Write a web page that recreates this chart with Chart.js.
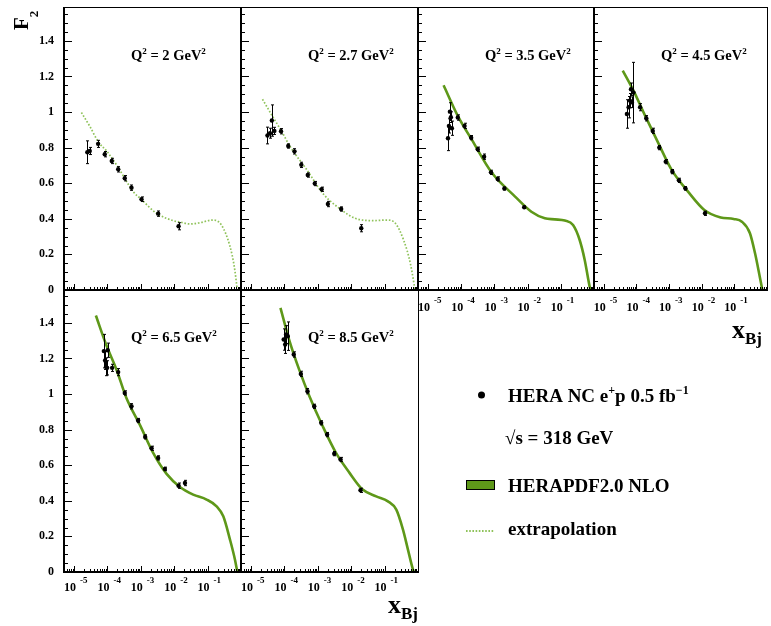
<!DOCTYPE html>
<html>
<head>
<meta charset="utf-8">
<script src="https://cdn.jsdelivr.net/npm/chart.js@4.4.1/dist/chart.umd.min.js"></script>
<style>
  html, body { margin: 0; padding: 0; background: #fff; }
  #wrap { position: relative; width: 771px; height: 626px; }
  #wrap canvas { position: absolute; left: 0; top: 0; }
</style>
</head>
<body>
<div id="wrap"></div>
<script>
// --- axis ticks ---
const yTickValues = [0, 0.2, 0.4, 0.6, 0.8, 1, 1.2, 1.4];
const yTickLabels = ['0', '0.2', '0.4', '0.6', '0.8', '1', '1.2', '1.4'];
const xTickValues = [1e-5, 1e-4, 1e-3, 1e-2, 1e-1];
const xTickExps   = ['-5', '-4', '-3', '-2', '-1'];
const q2Labels    = ['2', '2.7', '3.5', '4.5', '6.5', '8.5'];

// --- Q2 = 2 ---
const p1X = [2.5e-5, 2.95e-5, 5.25e-5, 8.3e-5, 1.35e-4, 2.1e-4, 3.3e-4, 5.25e-4, 1.05e-3, 3.3e-3, 1.35e-2];
const p1Y = [0.774, 0.781, 0.821, 0.763, 0.725, 0.678, 0.628, 0.575, 0.510, 0.429, 0.358];
const p1E = [0.064, 0.02, 0.02, 0.015, 0.015, 0.015, 0.015, 0.015, 0.013, 0.015, 0.02];
const p1CurveX = [1.66e-5, 3e-5, 5.25e-5, 1e-4, 2e-4, 5.9e-4, 1e-3, 2.95e-3, 1e-2, 1.48e-2, 2.95e-2, 5.9e-2, 1.41e-1, 2.6e-1, 4.7e-1, 6.3e-1, 7.76e-1];
const p1CurveY = [0.997, 0.918, 0.834, 0.775, 0.695, 0.553, 0.512, 0.431, 0.388, 0.382, 0.371, 0.378, 0.393, 0.365, 0.244, 0.131, 0];

// --- Q2 = 2.7 ---
const p2X = [3.1e-5, 3.7e-5, 4.2e-5, 5e-5, 7.9e-5, 1.3e-4, 2e-4, 3.2e-4, 5e-4, 8.1e-4, 1.3e-3, 2e-3, 5e-3, 2e-2];
const p2Y = [0.868, 0.881, 0.952, 0.894, 0.892, 0.809, 0.779, 0.703, 0.646, 0.598, 0.566, 0.483, 0.455, 0.347];
const p2E = [0.047, 0.028, 0.088, 0.02, 0.015, 0.012, 0.015, 0.015, 0.012, 0.012, 0.012, 0.015, 0.012, 0.02];
const p2CurveX = [2.2e-5, 4.2e-5, 8.3e-5, 1.48e-4, 4.7e-4, 1.48e-3, 4.7e-3, 1.3e-2, 4.7e-2, 1.17e-1, 2.1e-1, 3.7e-1, 5.9e-1, 8.1e-1];
const p2CurveY = [1.072, 0.982, 0.890, 0.806, 0.675, 0.538, 0.455, 0.403, 0.390, 0.393, 0.375, 0.281, 0.150, 0.004];

// --- Q2 = 3.5 ---
const p3X = [4e-5, 4.27e-5, 4.57e-5, 4.9e-5, 5.25e-5, 7.9e-5, 1.26e-4, 2e-4, 3.16e-4, 4.9e-4, 7.9e-4, 1.26e-3, 2e-3, 7.9e-3];
const p3Y = [0.853, 0.922, 1.002, 0.971, 0.909, 0.969, 0.922, 0.856, 0.791, 0.749, 0.661, 0.624, 0.570, 0.465];
const p3E = [0.07, 0.04, 0.05, 0.03, 0.04, 0.015, 0.015, 0.012, 0.012, 0.015, 0.012, 0.012, 0.008, 0.006];
const p3CurveX = [2.95e-5, 7.9e-5, 2.1e-4, 8.3e-4, 4.2e-3, 1.3e-2, 3.3e-2, 6.6e-2, 1.32e-1, 2.34e-1, 3.7e-1, 5.25e-1, 7.4e-1, 7.9e-1];
const p3CurveY = [1.150, 0.978, 0.843, 0.660, 0.525, 0.440, 0.403, 0.397, 0.390, 0.365, 0.281, 0.169, 0.019, 0];

// --- Q2 = 4.5 ---
const p4X = [5.1e-5, 5.75e-5, 6.3e-5, 6.8e-5, 7.2e-5, 8.1e-5, 1.29e-4, 2e-4, 3.16e-4, 5e-4, 7.9e-4, 1.26e-3, 2e-3, 3.16e-3, 1.26e-2];
const p4Y = [0.989, 1.027, 1.064, 1.128, 1.055, 1.109, 1.027, 0.965, 0.894, 0.800, 0.721, 0.665, 0.616, 0.571, 0.431];
const p4E = [0.08, 0.06, 0.04, 0.035, 0.03, 0.17, 0.02, 0.015, 0.015, 0.012, 0.012, 0.012, 0.012, 0.01, 0.012];
const p4CurveX = [3.8e-5, 8.1e-5, 1.9e-4, 4.8e-4, 1.2e-3, 3.8e-3, 1.2e-2, 3.8e-2, 9.5e-2, 1.7e-1, 3.0e-1, 4.3e-1, 6.0e-1, 7.2e-1];
const p4CurveY = [1.233, 1.120, 0.974, 0.821, 0.675, 0.553, 0.450, 0.408, 0.399, 0.384, 0.319, 0.206, 0.075, 0];

// --- Q2 = 6.5 ---
const p5X = [7.8e-5, 8.5e-5, 9.1e-5, 9.8e-5, 1.02e-4, 1.38e-4, 2.1e-4, 3.3e-4, 5.25e-4, 8.3e-4, 1.35e-3, 2.1e-3, 3.3e-3, 5.25e-3, 1.35e-2, 2.1e-2];
const p5Y = [1.241, 1.188, 1.153, 1.147, 1.246, 1.147, 1.123, 1.006, 0.931, 0.851, 0.759, 0.695, 0.641, 0.579, 0.485, 0.500];
const p5E = [0.094, 0.05, 0.05, 0.04, 0.04, 0.02, 0.02, 0.012, 0.015, 0.012, 0.012, 0.012, 0.012, 0.01, 0.015, 0.015];
const p5CurveX = [4.5e-5, 9.3e-5, 1.86e-4, 3.7e-4, 9.3e-4, 2.34e-3, 5.9e-3, 1.48e-2, 3.7e-2, 9.3e-2, 1.86e-1, 2.95e-1, 4.68e-1, 6.6e-1, 7.76e-1];
const p5CurveY = [1.441, 1.274, 1.138, 0.978, 0.828, 0.669, 0.551, 0.478, 0.435, 0.407, 0.369, 0.313, 0.182, 0.069, 0];

// --- Q2 = 8.5 ---
const p6X = [9.5e-5, 1.05e-4, 1.12e-4, 1.26e-4, 1.9e-4, 3.1e-4, 4.9e-4, 7.8e-4, 1.26e-3, 1.9e-3, 3.1e-3, 4.8e-3, 1.9e-2];
const p6Y = [1.306, 1.278, 1.334, 1.325, 1.222, 1.113, 1.016, 0.931, 0.838, 0.772, 0.665, 0.632, 0.459];
const p6E = [0.06, 0.05, 0.05, 0.08, 0.015, 0.015, 0.015, 0.012, 0.012, 0.012, 0.012, 0.012, 0.012];
const p6CurveX = [7.6e-5, 1.4e-4, 2.8e-4, 5.6e-4, 1.4e-3, 3.5e-3, 8.9e-3, 2.2e-2, 5.6e-2, 1.26e-1, 2.24e-1, 3.55e-1, 5.0e-1, 7.1e-1, 7.6e-1];
const p6CurveY = [1.484, 1.302, 1.134, 0.988, 0.819, 0.669, 0.557, 0.463, 0.425, 0.397, 0.350, 0.238, 0.126, 0.013, 0];

const SERIF = '"Liberation Serif", "Times New Roman", serif';
const BAND  = '#5e9819';
const EXTRA = '#8fc25a';
const W = 771, H = 626;

// panel boxes: [left, top, right, bottom]
const PANELS = [
  { box: [64, 7, 241, 290],    px: p1X, py: p1Y, pe: p1E, cx: p1CurveX, cy: p1CurveY, extrap: true,  yLab: true },
  { box: [241, 7, 418, 290],   px: p2X, py: p2Y, pe: p2E, cx: p2CurveX, cy: p2CurveY, extrap: true },
  { box: [418, 7, 594, 290],   px: p3X, py: p3Y, pe: p3E, cx: p3CurveX, cy: p3CurveY, xLab: 311 },
  { box: [594, 7, 770, 290],   px: p4X, py: p4Y, pe: p4E, cx: p4CurveX, cy: p4CurveY, xLab: 311, xTitle: [732, 338] },
  { box: [64, 289, 241, 572],  px: p5X, py: p5Y, pe: p5E, cx: p5CurveX, cy: p5CurveY, yLab: true, xLab: 591 },
  { box: [241, 289, 418, 572], px: p6X, py: p6Y, pe: p6E, cx: p6CurveX, cy: p6CurveY, xLab: 591, xTitle: [388, 613], legend: true },
];

function rich(ctx, x, y, parts) {
  let cx = x;
  parts.forEach(([t, size, dy]) => {
    ctx.font = `bold ${size}px ${SERIF}`;
    ctx.fillText(t, cx, y + (dy || 0));
    cx += ctx.measureText(t).width;
  });
}

function drawLegend(ctx) {
  ctx.fillStyle = '#000';
  ctx.textBaseline = 'alphabetic';
  ctx.textAlign = 'left';
  ctx.beginPath(); ctx.arc(481.5, 395, 3.5, 0, Math.PI * 2); ctx.fill();
  rich(ctx, 508, 402, [['HERA NC e', 19], ['+', 12, -8], ['p 0.5 fb', 19], ['\u22121', 12, -8]]);
  rich(ctx, 505, 444, [['\u221As = 318 GeV', 19]]);
  ctx.fillStyle = BAND;
  ctx.fillRect(466, 480, 28, 9);
  ctx.strokeStyle = '#000'; ctx.lineWidth = 1;
  ctx.strokeRect(466.5, 480.5, 28, 9);
  ctx.fillStyle = '#000';
  rich(ctx, 508, 492, [['HERAPDF2.0 NLO', 19]]);
  ctx.strokeStyle = EXTRA; ctx.lineWidth = 1.8; ctx.setLineDash([1.6, 1.6]);
  ctx.beginPath(); ctx.moveTo(466, 531); ctx.lineTo(494, 531); ctx.stroke();
  ctx.setLineDash([]);
  rich(ctx, 508, 535, [['extrapolation', 19]]);
}

function makePanelPlugin(p, idx) {
  return {
    id: 'panel' + idx,
    afterDatasetsDraw(chart) {
      const { ctx, scales: { x, y } } = chart;
      ctx.save();
      ctx.strokeStyle = '#000'; ctx.lineWidth = 1;
      p.px.forEach((v, i) => {
        const X = Math.round(x.getPixelForValue(v)) + 0.5;
        const y1 = y.getPixelForValue(p.py[i] + p.pe[i]);
        const y2 = y.getPixelForValue(p.py[i] - p.pe[i]);
        ctx.beginPath();
        ctx.moveTo(X, y1); ctx.lineTo(X, y2);
        ctx.moveTo(X - 1.5, y1); ctx.lineTo(X + 1.5, y1);
        ctx.moveTo(X - 1.5, y2); ctx.lineTo(X + 1.5, y2);
        ctx.stroke();
      });
      ctx.restore();
    },
    afterDraw(chart) {
      const { ctx, chartArea: a, scales: { x, y } } = chart;
      ctx.save();
      ctx.strokeStyle = '#000';
      // frame
      ctx.lineWidth = 1;
      ctx.strokeRect(a.left + 0.5, a.top + 0.5, a.right - a.left, a.bottom - a.top);
      ctx.lineWidth = 2;
      ctx.beginPath();
      ctx.moveTo(a.left, a.top); ctx.lineTo(a.left, a.bottom); ctx.lineTo(a.right, a.bottom);
      ctx.stroke();
      // y ticks, every 0.05, long every 0.2
      ctx.lineWidth = 1;
      for (let k = 0; k * 0.05 <= 1.58; k++) {
        const py = Math.round(y.getPixelForValue(k * 0.05)) + 0.5;
        const len = k % 4 === 0 ? 8 : 4;
        ctx.beginPath(); ctx.moveTo(a.left, py); ctx.lineTo(a.left + len, py); ctx.stroke();
      }
      // x ticks, log decades
      for (let d = -6; d <= 0; d++) {
        for (let m = 1; m <= 9; m++) {
          const v = m * Math.pow(10, d);
          if (v < x.min || v > x.max) continue;
          const px = Math.round(x.getPixelForValue(v)) + 0.5;
          const len = m === 1 ? 6 : 3;
          ctx.beginPath(); ctx.moveTo(px, a.bottom); ctx.lineTo(px, a.bottom - len); ctx.stroke();
        }
      }
      ctx.fillStyle = '#000';
      if (p.yLab) {
        ctx.textAlign = 'right'; ctx.textBaseline = 'middle';
        ctx.font = `bold 12px ${SERIF}`;
        yTickValues.forEach((v, i) => ctx.fillText(yTickLabels[i], 54, y.getPixelForValue(v)));
      }
      ctx.textBaseline = 'alphabetic';
      if (p.xLab) {
        xTickValues.forEach((v, i) => {
          const px = x.getPixelForValue(v);
          ctx.textAlign = 'right';
          ctx.font = `bold 12px ${SERIF}`;
          ctx.fillText('10', px + 2, p.xLab);
          ctx.textAlign = 'left';
          ctx.font = `bold 9px ${SERIF}`;
          ctx.fillText(xTickExps[i], px + 6, p.xLab - 8);
        });
      }
      ctx.textAlign = 'left';
      rich(ctx, a.left + 67, a.top + 52.5, [['Q', 14.5], ['2', 9, -6], [' = ' + q2Labels[idx] + ' GeV', 14.5], ['2', 9, -6]]);
      if (p.xTitle) {
        const [tx, ty] = p.xTitle;
        rich(ctx, tx, ty, [['x', 26]]);
        rich(ctx, tx + 13, ty + 6, [['Bj', 17]]);
      }
      if (p.yLab && idx === 0) {
        ctx.translate(28, 30);
        ctx.rotate(-Math.PI / 2);
        rich(ctx, 0, 0, [['F', 21], ['2', 13, 10]]);
        ctx.setTransform(1, 0, 0, 1, 0, 0);
      }
      if (p.legend) drawLegend(ctx);
      ctx.restore();
    }
  };
}

const wrap = document.getElementById('wrap');
PANELS.forEach((p, idx) => {
  const canvas = document.createElement('canvas');
  canvas.width = W; canvas.height = H;
  canvas.style.width = W + 'px'; canvas.style.height = H + 'px';
  wrap.appendChild(canvas);
  const [l, t, r, b] = p.box;
  new Chart(canvas.getContext('2d'), {
    type: 'scatter',
    data: {
      datasets: [
        { data: p.px.map((v, i) => ({ x: v, y: p.py[i] })), pointRadius: 2.2, pointBackgroundColor: '#000', pointBorderWidth: 0, showLine: false },
        { data: p.cx.map((v, i) => ({ x: v, y: p.cy[i] })), showLine: true, pointRadius: 0,
          borderColor: p.extrap ? EXTRA : BAND, borderWidth: p.extrap ? 1.7 : 2.6,
          borderDash: p.extrap ? [1.6, 1.8] : [], cubicInterpolationMode: 'monotone', fill: false },
      ],
    },
    options: {
      responsive: false, animation: false, events: [],
      layout: { padding: { left: l, top: t, right: W - r, bottom: H - b } },
      plugins: { legend: { display: false }, tooltip: { enabled: false } },
      scales: {
        x: { type: 'logarithmic', min: 5e-6, max: 1, display: false },
        y: { type: 'linear', min: 0, max: 1.59, display: false },
      },
    },
    plugins: [makePanelPlugin(p, idx)],
  });
});
</script>
</body>
</html>
